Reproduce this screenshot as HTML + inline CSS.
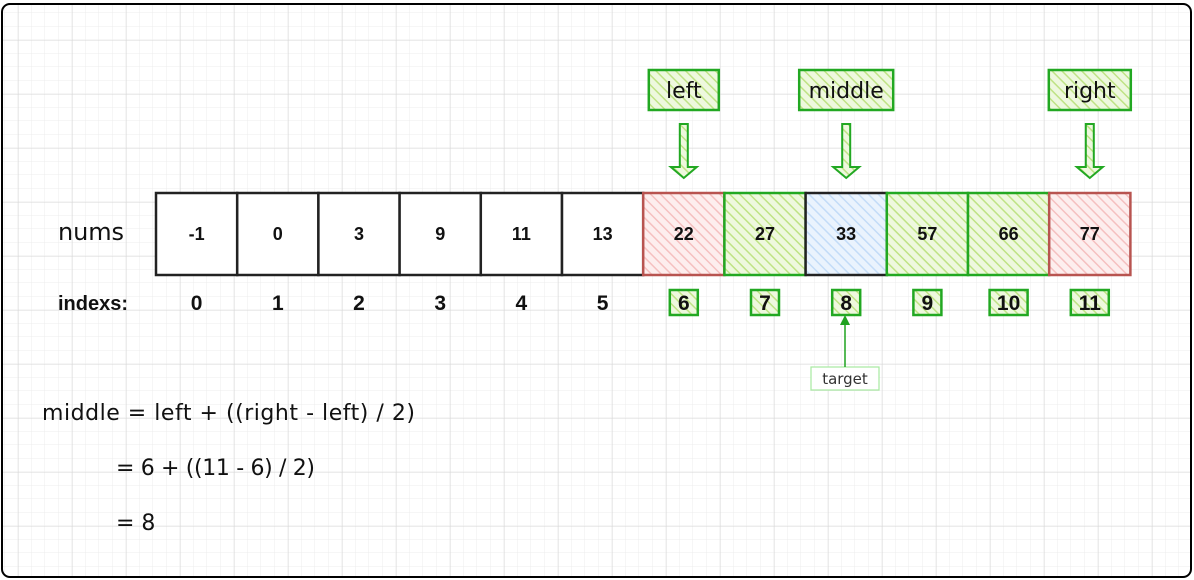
<!DOCTYPE html>
<html><head><meta charset="utf-8"><style>
html,body{margin:0;padding:0;background:#fff;}
svg{display:block;}
.hand{font-family:"DejaVu Sans","Liberation Sans",sans-serif;}
.b{font-family:"Liberation Sans",Arial,sans-serif;font-weight:bold;}
</style></head><body>
<svg id="c" width="1194" height="580" xmlns="http://www.w3.org/2000/svg">
<defs>
<pattern id="gridMinor" width="13.5" height="13.5" patternUnits="userSpaceOnUse" x="4.5" y="-0.5">
<path d="M13.5 0V13.5M0 13.5H13.5" stroke="#ececec" stroke-width="1" fill="none"/></pattern>
<pattern id="gridMajor" width="54" height="54" patternUnits="userSpaceOnUse" x="18" y="40">
<path d="M0 0V54M0 0H54" stroke="#d9d9d9" stroke-width="1" fill="none"/></pattern>
<pattern id="hG" width="7" height="7" patternUnits="userSpaceOnUse" patternTransform="rotate(-45)">
<rect width="7" height="7" fill="#eef8de"/><line x1="0" y1="0" x2="0" y2="7" stroke="#bfe385" stroke-width="3"/></pattern>
<pattern id="hR" width="7" height="7" patternUnits="userSpaceOnUse" patternTransform="rotate(-45)">
<rect width="7" height="7" fill="#fdeeee"/><line x1="0" y1="0" x2="0" y2="7" stroke="#f5c0c0" stroke-width="3"/></pattern>
<pattern id="hB" width="7" height="7" patternUnits="userSpaceOnUse" patternTransform="rotate(-45)">
<rect width="7" height="7" fill="#eaf3fd"/><line x1="0" y1="0" x2="0" y2="7" stroke="#c3dcf8" stroke-width="3"/></pattern>
</defs>
<rect x="1" y="3" width="1191" height="575" rx="8" fill="url(#gridMinor)"/>
<rect x="1" y="3" width="1191" height="575" rx="8" fill="url(#gridMajor)"/>
<rect x="2" y="4" width="1189" height="573" rx="8" fill="none" stroke="#000" stroke-width="2"/>
<text x="58" y="240" class="hand" style="font-size:24px" textLength="66" fill="#111">nums</text>
<text x="58" y="310" class="b" style="font-size:20px" fill="#111">indexs:</text>
<g id="cells"></g>
<g id="ptrs"></g>
<rect x="811" y="367" width="68" height="23" fill="#fff" stroke="#a6eaa0" stroke-width="1.2"/>
<text x="845" y="384" text-anchor="middle" class="hand" style="font-size:15px" fill="#333">target</text>
<line x1="845" y1="367" x2="845" y2="322" stroke="#1fa21f" stroke-width="1.5"/>
<path d="M840 325 L845 315 L850 325 Z" fill="#1fa21f"/>
<text x="42" y="420" class="hand" style="font-size:22px" textLength="373" fill="#111">middle = left + ((right - left) / 2)</text>
<text x="116" y="475" class="hand" style="font-size:22px" textLength="199" fill="#111">= 6 + ((11 - 6) / 2)</text>
<text x="116" y="530" class="hand" style="font-size:22px" fill="#111">= 8</text>
</svg>
<script>
const values=[-1,0,3,9,11,13,22,27,33,57,66,77];
const kinds=['n','n','n','n','n','n','r','g','b','g','g','r'];
const pointers=['left','middle','right'];
const pointerIdx=[6,8,11];
const NS='http://www.w3.org/2000/svg';
const X0=156,W=81.2,Y0=193,H=82;
const cx=i=>X0+W*(i+0.5);
function mk(t,a,p){const e=document.createElementNS(NS,t);for(const k in a)e.setAttribute(k,a[k]);p.appendChild(e);return e;}
const cg=document.getElementById('cells');
values.forEach((v,i)=>{
  const k=kinds[i];
  const fill=k==='g'?'url(#hG)':k==='r'?'url(#hR)':k==='b'?'url(#hB)':'#fff';
  const stroke=k==='g'?'#22a822':k==='r'?'#b85450':'#222';
  const r=mk('rect',{x:X0+W*i,y:Y0,width:W,height:H,fill:fill,stroke:stroke,'stroke-width':2.5},cg);
  
  
  const t=mk('text',{x:cx(i),y:Y0+H/2+6,'text-anchor':'middle','class':'b',style:'font-size:18px',fill:'#111'},cg);
  t.textContent=v;
  
  
  if(k!=='n'){
    const bw=String(i).length>1?38:28;
    const ib=mk('rect',{x:cx(i)-bw/2,y:290,width:bw,height:25,fill:'url(#hG)',stroke:'#22a822','stroke-width':2.5},cg);
    
    
  }
  const it=mk('text',{x:cx(i),y:310,'text-anchor':'middle','class':'b',style:'font-size:21px',fill:'#111'},cg);
  it.textContent=i;
  
  
});
const pg=document.getElementById('ptrs');
const pw=[70,94,82];
pointers.forEach((p,j)=>{
  const c=cx(pointerIdx[j]);
  const b=mk('rect',{x:c-pw[j]/2,y:70,width:pw[j],height:40,fill:'url(#hG)',stroke:'#22a822','stroke-width':2.5},pg);
  
  
  const t=mk('text',{x:c,y:98,'text-anchor':'middle','class':'hand',style:'font-size:22px',fill:'#111'},pg);
  t.textContent=p;
  
  
  const a=mk('path',{d:`M${c-4} 124 H${c+4} V167 H${c+13} L${c} 178 L${c-13} 167 H${c-4} Z`,fill:'url(#hG)',stroke:'#22a822','stroke-width':2},pg);
  
  
});
</script>
</body></html>
